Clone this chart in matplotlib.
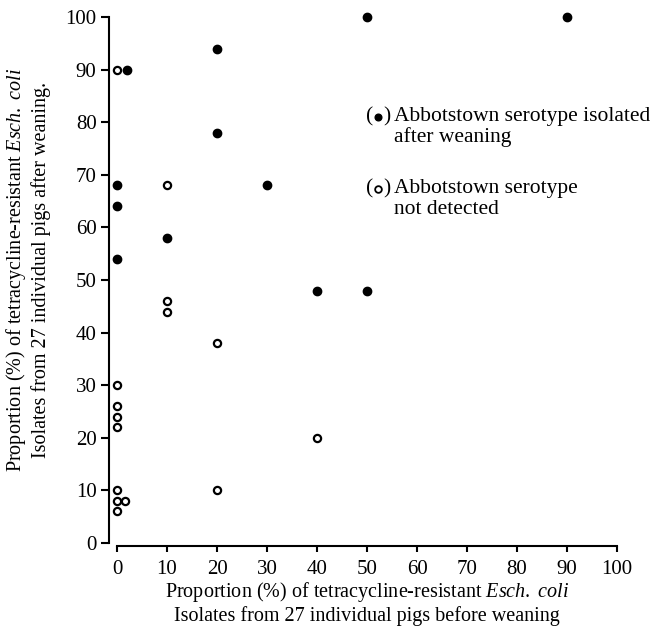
import matplotlib.pyplot as plt

plt.rcParams['font.family'] = ['Liberation Serif', 'DejaVu Serif']
plt.rcParams['mathtext.fontset'] = 'custom'
plt.rcParams['mathtext.rm'] = 'Liberation Serif'
plt.rcParams['mathtext.it'] = 'Liberation Serif:italic'

# Abbotstown serotype isolated after weaning (filled)
iso_before = [50, 90, 2, 20, 20, 0, 30, 0, 10, 0, 40, 50]
iso_after = [100, 100, 90, 94, 78, 68, 68, 64, 58, 54, 48, 48]

# Abbotstown serotype not detected (open)
nd_before = [0, 10, 10, 10, 20, 0, 0, 0, 0, 40, 0, 20, 0, 1.5, 0]
nd_after = [90, 68, 46, 44, 38, 30, 26, 24, 22, 20, 10, 10, 8, 8, 6]

ticks = list(range(0, 101, 10))

W, H = 658, 631


def px(x, y):
    # pixel position (from top-left) -> figure fraction
    return x / W, 1 - y / H


fig = plt.figure(figsize=(W / 100, H / 100), dpi=100)
ax = fig.add_axes([0.1657, 0.1353, 0.7758, 0.846])

ax.plot(iso_before, iso_after, 'o', color='black', markersize=6, clip_on=False)
ax.plot(nd_before, nd_after, 'o', markerfacecolor='white', markeredgecolor='black',
        markersize=5.2, markeredgewidth=1.6, clip_on=False)

ax.set_xlim(-1.6, 100.5)
ax.set_ylim(-0.5, 101)
ax.set_xticks(ticks)
ax.set_yticks(ticks)

for s in ['top', 'right']:
    ax.spines[s].set_visible(False)
ax.spines['left'].set_bounds(0, 100)
ax.spines['bottom'].set_bounds(0, 100)
ax.spines['left'].set_linewidth(1.5)
ax.spines['bottom'].set_linewidth(1.5)
ax.tick_params(axis='y', direction='out', length=6, width=1.5, pad=3, labelsize=15)
ax.tick_params(axis='x', direction='out', length=4, width=1.5, pad=6, labelsize=15)

# axis titles, two lines each
fs = 14.5
coli = 'Proportion (%) of tetracycline-resistant $\\mathit{Esch.\\ coli}$'
fig.text(*px(367, 592), coli, fontsize=fs, ha='center', va='center')
fig.text(*px(367, 616), 'Isolates from 27 individual pigs before weaning',
         fontsize=fs, ha='center', va='center')
fig.text(*px(16, 270), coli, fontsize=fs, ha='center', va='center', rotation=90)
fig.text(*px(41, 270), 'Isolates from 27 individual pigs after weaning.',
         fontsize=fs, ha='center', va='center', rotation=90)

# legend drawn as text with markers, like the printed figure
lfs = 15.5
for y, lines in [(117, ['Abbotstown serotype isolated', 'after weaning']),
                 (189, ['Abbotstown serotype', 'not detected'])]:
    fig.text(*px(366, y), '(', fontsize=lfs, ha='left', va='center')
    fig.text(*px(390, y), ')', fontsize=lfs, ha='right', va='center')
    fig.text(*px(394, y), lines[0], fontsize=lfs, ha='left', va='center')
    fig.text(*px(394, y + 20), lines[1], fontsize=lfs, ha='left', va='center')

fig.lines.append(plt.Line2D([378 / W], [1 - 117 / H], marker='o', color='black',
                            markersize=4.8, transform=fig.transFigure, figure=fig))
fig.lines.append(plt.Line2D([378 / W], [1 - 189 / H], marker='o', markerfacecolor='white',
                            markeredgecolor='black', markersize=4.8, markeredgewidth=1.3,
                            transform=fig.transFigure, figure=fig))

fig.savefig('out.png', dpi=100)
